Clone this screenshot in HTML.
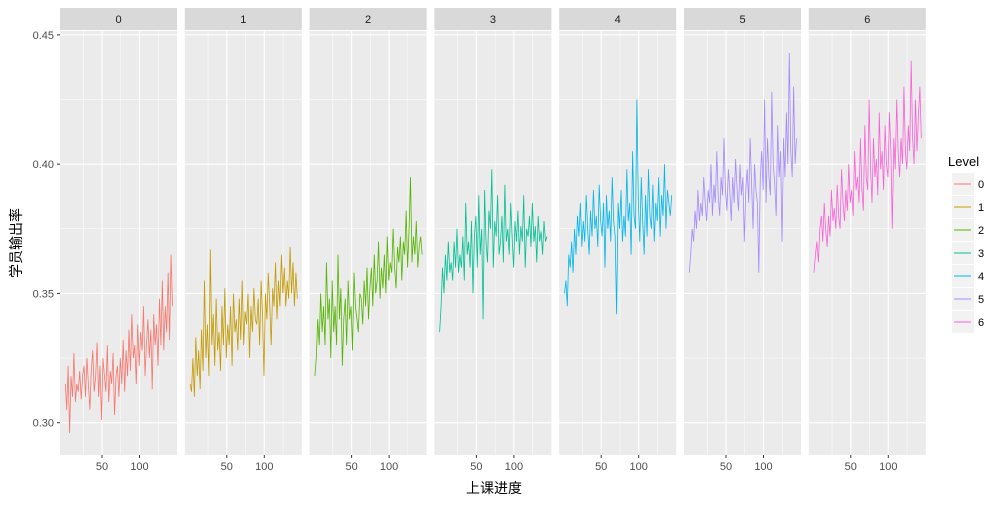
<!DOCTYPE html>
<html><head><meta charset="utf-8"><style>
body{margin:0;background:#fff;}
svg text{font-family:"Liberation Sans","Noto Sans CJK SC",sans-serif;}
</style></head><body>
<svg id="chart" width="1000" height="500" xmlns="http://www.w3.org/2000/svg"></svg>
<script>
const levels=["0","1","2","3","4","5","6"];
const colors=["#F8766D","#C49A00","#53B400","#00C094","#00B6EB","#A58AFF","#FB61D7"];
const yTicks=[0.30,0.35,0.40,0.45];
const xTicks=[50,100];
const s0=[0.315,0.305,0.322,0.296,0.318,0.31,0.327,0.308,0.315,0.312,0.32,0.309,0.318,0.322,0.31,0.325,0.315,0.305,0.32,0.328,0.312,0.318,0.331,0.31,0.322,0.301,0.325,0.318,0.312,0.33,0.308,0.32,0.315,0.327,0.303,0.318,0.322,0.31,0.325,0.315,0.332,0.312,0.328,0.318,0.336,0.32,0.342,0.325,0.33,0.315,0.338,0.322,0.335,0.328,0.345,0.318,0.33,0.34,0.325,0.336,0.313,0.342,0.33,0.338,0.322,0.348,0.33,0.355,0.328,0.345,0.335,0.358,0.332,0.365,0.345];
const s1=[0.315,0.312,0.325,0.31,0.333,0.318,0.328,0.313,0.336,0.32,0.355,0.325,0.338,0.318,0.367,0.33,0.342,0.322,0.348,0.328,0.335,0.32,0.345,0.33,0.352,0.325,0.338,0.33,0.345,0.322,0.35,0.335,0.34,0.328,0.348,0.332,0.355,0.33,0.343,0.338,0.35,0.325,0.345,0.335,0.352,0.34,0.338,0.348,0.33,0.355,0.342,0.318,0.35,0.34,0.358,0.345,0.33,0.352,0.345,0.362,0.34,0.355,0.345,0.365,0.35,0.36,0.345,0.355,0.348,0.368,0.35,0.362,0.345,0.358,0.348];
const s2=[0.318,0.325,0.34,0.33,0.35,0.335,0.345,0.33,0.362,0.34,0.348,0.325,0.355,0.335,0.345,0.33,0.365,0.34,0.352,0.322,0.34,0.348,0.33,0.355,0.34,0.345,0.328,0.358,0.345,0.34,0.335,0.35,0.348,0.338,0.355,0.345,0.36,0.34,0.352,0.36,0.345,0.365,0.35,0.355,0.37,0.348,0.36,0.352,0.365,0.35,0.372,0.355,0.362,0.358,0.375,0.36,0.352,0.368,0.362,0.372,0.355,0.37,0.365,0.382,0.36,0.375,0.395,0.362,0.372,0.365,0.378,0.36,0.368,0.372,0.365];
const s3=[0.335,0.345,0.36,0.35,0.365,0.355,0.37,0.358,0.362,0.355,0.37,0.36,0.375,0.358,0.365,0.36,0.372,0.355,0.385,0.365,0.37,0.36,0.378,0.35,0.372,0.38,0.36,0.388,0.365,0.375,0.34,0.39,0.37,0.362,0.382,0.375,0.398,0.36,0.378,0.372,0.388,0.365,0.37,0.38,0.362,0.392,0.37,0.375,0.365,0.385,0.372,0.36,0.378,0.37,0.382,0.365,0.376,0.37,0.388,0.36,0.375,0.372,0.38,0.368,0.385,0.37,0.376,0.362,0.38,0.37,0.374,0.365,0.378,0.37,0.372];
const s4=[0.35,0.355,0.345,0.365,0.36,0.37,0.358,0.375,0.365,0.38,0.372,0.385,0.368,0.378,0.37,0.388,0.375,0.365,0.382,0.372,0.39,0.375,0.38,0.368,0.392,0.378,0.372,0.385,0.36,0.388,0.375,0.382,0.37,0.395,0.378,0.372,0.342,0.385,0.375,0.39,0.37,0.38,0.372,0.398,0.378,0.385,0.365,0.405,0.38,0.375,0.425,0.385,0.37,0.395,0.378,0.365,0.388,0.372,0.398,0.38,0.375,0.392,0.37,0.385,0.378,0.395,0.372,0.388,0.38,0.4,0.375,0.39,0.385,0.38,0.388];
const s5=[0.358,0.365,0.375,0.37,0.382,0.375,0.39,0.378,0.385,0.38,0.395,0.385,0.378,0.39,0.385,0.4,0.38,0.392,0.385,0.405,0.388,0.38,0.395,0.388,0.41,0.39,0.382,0.398,0.39,0.378,0.395,0.385,0.402,0.39,0.382,0.4,0.388,0.395,0.37,0.39,0.398,0.385,0.41,0.392,0.375,0.4,0.39,0.385,0.358,0.395,0.405,0.39,0.425,0.385,0.41,0.395,0.388,0.428,0.4,0.392,0.38,0.415,0.395,0.405,0.37,0.41,0.395,0.42,0.4,0.443,0.405,0.395,0.43,0.4,0.41];
const s6=[0.358,0.365,0.37,0.362,0.375,0.38,0.37,0.385,0.375,0.368,0.38,0.372,0.39,0.378,0.383,0.375,0.392,0.38,0.375,0.398,0.385,0.378,0.39,0.382,0.4,0.385,0.39,0.38,0.405,0.39,0.395,0.385,0.41,0.39,0.382,0.415,0.395,0.39,0.425,0.398,0.385,0.41,0.395,0.402,0.388,0.42,0.398,0.405,0.39,0.415,0.4,0.395,0.42,0.405,0.375,0.41,0.398,0.425,0.405,0.395,0.41,0.4,0.43,0.405,0.398,0.415,0.405,0.44,0.41,0.4,0.425,0.405,0.418,0.43,0.41];
const series=[s0,s1,s2,s3,s4,s5,s6];

const NS="http://www.w3.org/2000/svg";
const svg=document.getElementById('chart');
function mk(tag,attrs,parent){const e=document.createElementNS(NS,tag);for(const k in attrs)e.setAttribute(k,attrs[k]);(parent||svg).appendChild(e);return e;}
const plotTop=31,plotBot=455,pw=117,gap=7.8,left0=60;
const yMin=0.2875,yMax=0.4515;
const xMin=-6,xMax=150;
function yS(v){return plotBot-(v-yMin)/(yMax-yMin)*(plotBot-plotTop);}
function xS(k,v){return left0+k*(pw+gap)+(v-xMin)/(xMax-xMin)*pw;}

levels.forEach((lv,k)=>{
  const g=mk('g',{});
  
  
  const pl=left0+k*(pw+gap);
  const bg=mk('rect',{x:pl,y:plotTop,width:pw,height:plotBot-plotTop,fill:'#EBEBEB'},g);
  
  
  const st=mk('rect',{x:pl,y:8,width:pw,height:22,fill:'#D9D9D9'},g);
  
  
  const stt=mk('text',{x:pl+pw/2,y:23,'text-anchor':'middle','font-size':11,fill:'#1A1A1A'},g);
  stt.textContent=lv;
  
  
  for(let i=0;i<yTicks.length-1;i++){const m=(yTicks[i]+yTicks[i+1])/2;mk('line',{x1:pl,x2:pl+pw,y1:yS(m),y2:yS(m),stroke:'#fff','stroke-width':0.5},g);}
  [25,75,125].forEach(m=>mk('line',{x1:xS(k,m),x2:xS(k,m),y1:plotTop,y2:plotBot,stroke:'#fff','stroke-width':0.5},g));
  yTicks.forEach(t=>mk('line',{x1:pl,x2:pl+pw,y1:yS(t),y2:yS(t),stroke:'#fff','stroke-width':1.1},g));
  xTicks.forEach(t=>{
    mk('line',{x1:xS(k,t),x2:xS(k,t),y1:plotTop,y2:plotBot,stroke:'#fff','stroke-width':1.1},g);
    mk('line',{x1:xS(k,t),x2:xS(k,t),y1:plotBot,y2:plotBot+3,stroke:'#333','stroke-width':1},g);
    const tl=mk('text',{x:xS(k,t),y:plotBot+15,'text-anchor':'middle','font-size':11,fill:'#4D4D4D'},g);
    tl.textContent=t;
    
    
  });
  const d=series[k];
  const n=d.length;
  const pts=d.map((v,i)=>xS(k,1+i*(143/(n-1))).toFixed(1)+','+yS(v).toFixed(1)).join(' ');
  const ln=mk('polyline',{points:pts,fill:'none',stroke:colors[k],'stroke-width':0.8},g);
  
  
});
yTicks.forEach(t=>{
  mk('line',{x1:57,x2:60,y1:yS(t),y2:yS(t),stroke:'#333','stroke-width':1});
  const tl=mk('text',{x:54,y:yS(t)+4,'text-anchor':'end','font-size':11,fill:'#4D4D4D'});
  tl.textContent=t.toFixed(2);
  
  
});
const xt=mk('text',{x:494,y:493,'text-anchor':'middle','font-size':14,fill:'#000'});
xt.textContent='上课进度';


const yt=mk('text',{x:0,y:0,'text-anchor':'middle','font-size':14,fill:'#000',transform:'translate(21,243) rotate(-90)'});
yt.textContent='学员输出率';


const lg=mk('g',{});


const lt=mk('text',{x:948,y:166,'font-size':13,fill:'#000'},lg);
lt.textContent='Level';


levels.forEach((lv,k)=>{
  const y=173+k*23;
  const e=mk('g',{},lg);
  
  
  mk('rect',{x:952,y:y,width:22,height:22,fill:'#F2F2F2'},e);
  mk('line',{x1:954,x2:971,y1:y+11,y2:y+11,stroke:colors[k],'stroke-width':1},e);
  const t=mk('text',{x:978,y:y+15,'font-size':11,fill:'#000'},e);
  t.textContent=lv;
});
</script>
</body></html>
